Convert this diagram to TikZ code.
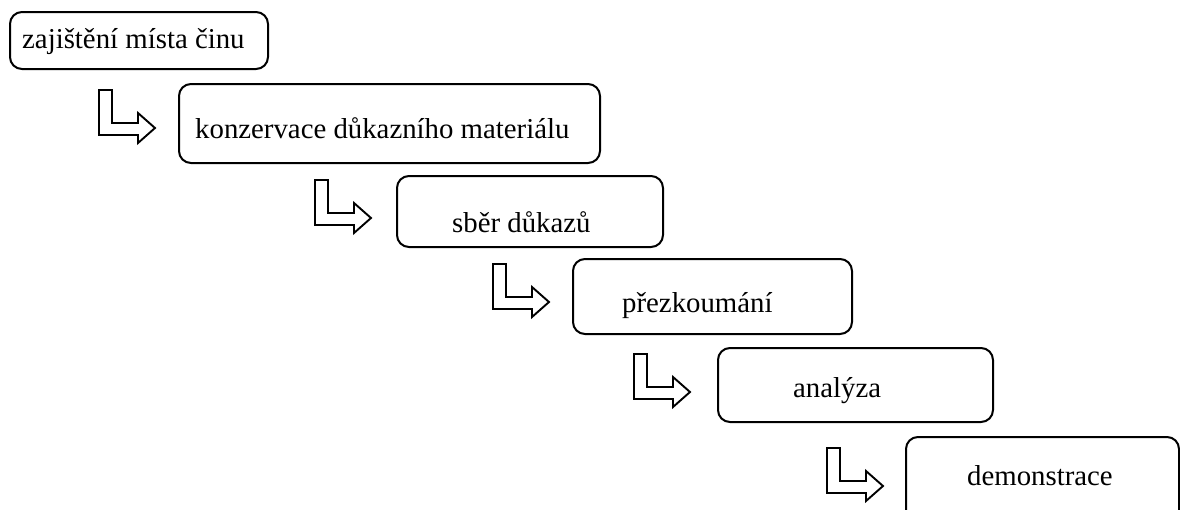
\documentclass[tikz,border=0pt]{standalone}
\usepackage{fontspec}
\setmainfont{Liberation Serif}

\tikzset{
  stepbox/.style={draw, rounded corners=12pt, line width=2pt, inner sep=0pt},
  steplabel/.style={inner sep=0pt, anchor=base west, font=\fontsize{28.8}{34}\selectfont},
  turnarrow/.style={draw, line width=1.9pt, line join=miter}
}

\begin{document}
\begin{tikzpicture}[x=1pt,y=-1pt]
\clip (0,0) rectangle (1180,509);
\coordinate (a1) at (99,90);
\coordinate (a2) at (315,180);
\coordinate (a3) at (493,264);
\coordinate (a4) at (634,354);
\coordinate (a5) at (827,448);

% Draw the boxes of the steps
\node[stepbox, minimum width=258pt, minimum height=57pt] (b1) at (139,40.5) {};
\node[stepbox, minimum width=421pt, minimum height=79pt] (b2) at (389.5,123.5) {};
\node[stepbox, minimum width=266pt, minimum height=71pt] (b3) at (530,211.5) {};
\node[stepbox, minimum width=279pt, minimum height=75pt] (b4) at (712.5,296.5) {};
\node[stepbox, minimum width=275pt, minimum height=74pt] (b5) at (855.5,385) {};
\node[stepbox, minimum width=273pt, minimum height=103pt] (b6) at (1042.5,488.5) {};

% Labels inside the boxes
\node[steplabel] (t1) at (22,48) {zajištění místa činu};
\node[steplabel] (t2) at (195,138) {konzervace důkazního materiálu};
\node[steplabel] (t3) at (452,232) {sběr důkazů};
\node[steplabel] (t4) at (622,312) {přezkoumání};
\node[steplabel] (t5) at (793,397) {analýza};
\node[steplabel] (t6) at (967,485) {demonstrace};

% Draw the bent arrows between the steps
\draw[turnarrow, shift={(a1)}] (0,0) -- (13,0) -- (13,33) -- (39,33) -- (39,23) -- (56,38)
  -- (39,53) -- (39,45) -- (0,45) -- cycle;
\draw[turnarrow, shift={(a2)}] (0,0) -- (13,0) -- (13,33) -- (39,33) -- (39,23) -- (56,38)
  -- (39,53) -- (39,45) -- (0,45) -- cycle;
\draw[turnarrow, shift={(a3)}] (0,0) -- (13,0) -- (13,33) -- (39,33) -- (39,23) -- (56,38)
  -- (39,53) -- (39,45) -- (0,45) -- cycle;
\draw[turnarrow, shift={(a4)}] (0,0) -- (13,0) -- (13,33) -- (39,33) -- (39,23) -- (56,38)
  -- (39,53) -- (39,45) -- (0,45) -- cycle;
\draw[turnarrow, shift={(a5)}] (0,0) -- (13,0) -- (13,33) -- (39,33) -- (39,23) -- (56,38)
  -- (39,53) -- (39,45) -- (0,45) -- cycle;

\end{tikzpicture}
\end{document}
